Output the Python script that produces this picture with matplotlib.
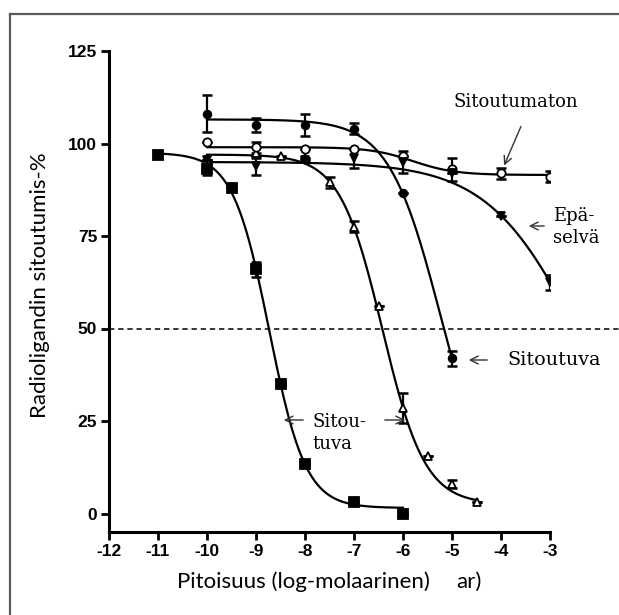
import numpy as np
import matplotlib
matplotlib.use("Agg")
import matplotlib.pyplot as plt
from matplotlib.lines import Line2D
from matplotlib.patches import FancyArrowPatch

# ---- measured points (log M concentration, % specific binding) ----
sq_x = [-11, -10, -9.5, -9, -8.5, -8, -7, -6]
sq_y = [97, 93, 88, 66, 35, 13.5, 3, 0]
sq_err = [0, 1.5, 0, 2, 0, 0, 0, 0]

circ_x = [-10, -9, -8, -7, -6, -5]
circ_y = [108, 105, 105, 104, 86.5, 42]
circ_err = [5, 2, 3, 1.5, 0, 2]

tri_x = [-10, -9, -8.5, -8, -7.5, -7, -6.5, -6, -5.5, -5, -4.5]
tri_y = [95.5, 97.5, 96.5, 96, 89.5, 77.5, 56, 28.5, 15.5, 8, 3]
tri_err = [0, 1.5, 0, 0, 1.5, 1.5, 0, 4, 0, 1, 0]

ocirc_x = [-10, -9, -8, -7, -6, -5, -4, -3]
ocirc_y = [100.5, 99, 98.5, 98.5, 96.5, 93, 92, 91]
ocirc_err = [0, 1.5, 0, 0, 0, 3, 1.5, 1.5]

dtri_x = [-10, -9, -8, -7, -6, -5, -4, -3]
dtri_y = [95.5, 94, 95.5, 96, 95, 92, 80.5, 62.5]
dtri_err = [0, 2.5, 0, 2.5, 3, 0, 0, 2]

# ---- fitted sigmoid parameters: top, bottom, logIC50, hill slope ----
sq_fit = [97.5, 1.5, -8.73, 1.17]
circ_fit = [106.5, 0.0, -5.23, 0.82]
tri_fit = [97.0, 2.5, -6.42, 1.0]
ocirc_fit = [99.0, 91.5, -5.8, 1.0]
dtri_fit = [95.0, 0.0, -2.38, 0.46]

x_ticks = [-12, -11, -10, -9, -8, -7, -6, -5, -4, -3]
y_ticks = [0, 25, 50, 75, 100, 125]


def logistic(x, p):
    top, bottom, c, h = p
    return bottom + (top - bottom) / (1 + 10 ** ((x - c) * h))


fig = plt.figure(figsize=(6.19, 6.15), dpi=100)
ax = fig.add_axes([109 / 619, 1 - 532 / 615, 441 / 619, 481 / 615])

series = [
    (sq_x, sq_y, sq_err, sq_fit, dict(marker="s", ms=7.5, mfc="black")),
    (circ_x, circ_y, circ_err, circ_fit, dict(marker="o", ms=5.5, mfc="black")),
    (tri_x, tri_y, tri_err, tri_fit, dict(marker="^", ms=6, mfc="white")),
    (ocirc_x, ocirc_y, ocirc_err, ocirc_fit, dict(marker="o", ms=6, mfc="white")),
    (dtri_x, dtri_y, dtri_err, dtri_fit, dict(marker="v", ms=6, mfc="black")),
]

for xs, ys, es, p, mstyle in series:
    xx = np.linspace(min(xs), max(xs), 300)
    ax.plot(xx, logistic(xx, p), color="black", lw=1.6, zorder=2)
    ax.errorbar(xs, ys, yerr=es, fmt="none", ecolor="black", elinewidth=1.6,
                capsize=3.5, capthick=1.8, zorder=3)
    ax.plot(xs, ys, linestyle="none", color="black", mec="black", mew=1.3,
            zorder=4, **mstyle)

# 50 % reference line running out to the figure edge
ax.plot([-12, -1.6], [50, 50], color="black", lw=1.1, ls=(0, (3.5, 2.5)),
        clip_on=False, zorder=1)

ax.set_xlim(-12, -3)
ax.set_ylim(-5, 125)
ax.set_xticks(x_ticks)
ax.set_yticks(y_ticks)
ax.set_xticklabels([str(t) for t in x_ticks])
ax.set_yticklabels([str(t) for t in y_ticks])
for s in ("top", "right"):
    ax.spines[s].set_visible(False)
for s in ("left", "bottom"):
    ax.spines[s].set_linewidth(2.2)
ax.spines["left"].set_bounds(-5, 125)
ax.tick_params(direction="out", length=5.5, width=2, pad=3)
for lab in ax.get_xticklabels() + ax.get_yticklabels():
    lab.set_fontfamily("Liberation Sans")
    lab.set_fontweight("bold")
    lab.set_fontsize(12.5)

# axis titles
fig.text(40 / 619, 1 - 285 / 615, "Radioligandin sitoutumis-%", rotation=90,
         ha="center", va="center", family="Lato", fontsize=16)
fig.text(303 / 619, 1 - 582 / 615, "Pitoisuus (log-molaarinen)",
         ha="center", va="center", family="Lato", fontsize=16)
fig.text(456 / 619, 1 - 582 / 615, "ar)", ha="left", va="center",
         family="Lato", fontsize=16)

# annotations
serif = dict(family="DejaVu Serif", fontsize=13, color="black")
arrow = dict(arrowstyle="->", color="#333333", lw=1.0, mutation_scale=14)


def fig_xy(px, py):
    return (px / 619, 1 - py / 615)


fig.text(*fig_xy(516, 102), "Sitoutumaton", ha="center", va="center", **serif)
fig.add_artist(FancyArrowPatch(
    fig_xy(522, 124), fig_xy(503, 168), transform=fig.transFigure, **arrow))

fig.text(*fig_xy(553, 227), "Epä-\nselvä", ha="left", va="center",
         linespacing=1.3, **serif)
fig.add_artist(FancyArrowPatch(
    fig_xy(547, 226), fig_xy(526, 226), transform=fig.transFigure, **arrow))

fig.text(*fig_xy(507, 360), "Sitoutuva", ha="left", va="center",
         family="DejaVu Serif", fontsize=13.8, color="black")
fig.add_artist(FancyArrowPatch(
    fig_xy(490, 360), fig_xy(466, 360), transform=fig.transFigure, **arrow))

fig.text(*fig_xy(312, 433), "Sitou-\ntuva", ha="left", va="center",
         linespacing=1.3, **serif)
fig.add_artist(FancyArrowPatch(
    fig_xy(306, 420), fig_xy(281, 420), transform=fig.transFigure, **arrow))
fig.add_artist(FancyArrowPatch(
    fig_xy(382, 420), fig_xy(408, 420), transform=fig.transFigure, **arrow))

# outer frame
frame_c = "#5a5a5a"
fig.add_artist(Line2D([10 / 619, 10 / 619], [1 - 14 / 615, 0], color=frame_c,
                      lw=1.6, transform=fig.transFigure))
fig.add_artist(Line2D([10 / 619, 1], [1 - 14 / 615, 1 - 14 / 615],
                      color=frame_c, lw=1.6, transform=fig.transFigure))

fig.savefig("out.png", dpi=100, facecolor="white")
